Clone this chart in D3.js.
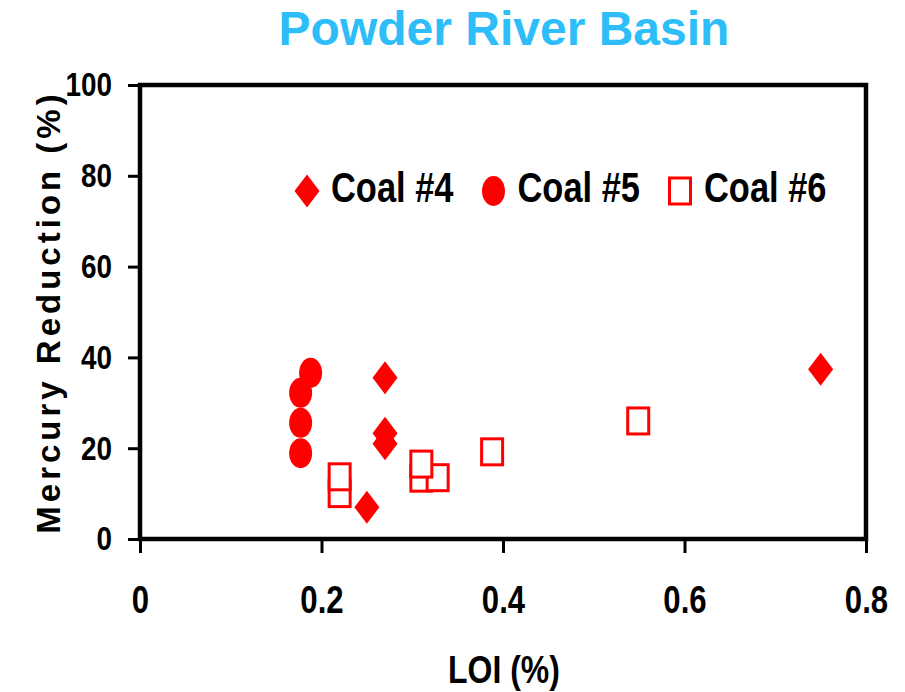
<!DOCTYPE html>
<html>
<head>
<meta charset="utf-8">
<script src="https://cdn.jsdelivr.net/npm/d3@7"></script>
<style>
  body { margin: 0; background: #fff; }
  svg { display: block; }
  .narrow { font-family: "Liberation Sans", Arial, sans-serif; font-weight: bold; }
</style>
</head>
<body>
<script>
// data
const seriesNames = ['Coal #4', 'Coal #5', 'Coal #6'];
const coal4LOI = [0.27, 0.27, 0.27, 0.25, 0.75];
const coal4Hg = [35.5, 23.3, 21.0, 7.0, 37.4];
const coal5LOI = [0.188, 0.177, 0.177, 0.177];
const coal5Hg = [36.6, 32.2, 25.6, 18.9];
const coal6LOI = [0.22, 0.22, 0.31, 0.328, 0.31, 0.388, 0.549];
const coal6Hg = [10.0, 13.7, 13.4, 13.5, 16.5, 19.2, 26.0];
const xTicks = [0, 0.2, 0.4, 0.6, 0.8];
const yTicks = [0, 20, 40, 60, 80, 100];

const width = 905, height = 692;
const margin = { top: 85, right: 39, bottom: 153, left: 140 };
const red = '#ff0000';
const squeeze = 0.82; // no narrow font installed, so squash bold text sideways

const svg = d3.select('body').append('svg')
  .attr('width', width)
  .attr('height', height);

const x = d3.scaleLinear().domain([0, 0.8]).range([margin.left, width - margin.right]);
const y = d3.scaleLinear().domain([0, 100]).range([height - margin.bottom, margin.top]);

// title
svg.append('text')
  .attr('x', 504)
  .attr('y', 45)
  .attr('text-anchor', 'middle')
  .style('font-family', '"Liberation Sans", Arial, sans-serif')
  .style('font-weight', 'bold')
  .style('font-size', '48px')
  .style('fill', '#2dbdf8')
  .text('Powder River Basin');

// axes
const xAxis = svg.append('g')
  .attr('transform', `translate(0,${y(0)})`)
  .call(d3.axisBottom(x).tickValues(xTicks).tickSize(14).tickPadding(33).tickFormat(d => d));
const yAxis = svg.append('g')
  .attr('transform', `translate(${x(0)},0)`)
  .call(d3.axisLeft(y).tickValues(yTicks).tickSize(12).tickPadding(16));

[xAxis, yAxis].forEach(g => {
  g.select('.domain').remove();
  g.selectAll('line').attr('stroke', '#000').attr('stroke-width', 3);
  g.selectAll('text').attr('class', 'narrow').attr('fill', '#000');
});
xAxis.selectAll('text')
  .style('font-size', '38px')
  .attr('y', 0)
  .attr('transform', `translate(0,47) scale(${squeeze},1)`);
yAxis.selectAll('text')
  .style('font-size', '34px')
  .attr('x', 0)
  .attr('transform', `translate(-28,0) scale(${squeeze},1)`);

// plot frame
svg.append('rect')
  .attr('x', x(0))
  .attr('y', y(100))
  .attr('width', x(0.8) - x(0))
  .attr('height', y(0) - y(100))
  .attr('fill', 'none')
  .attr('stroke', '#000')
  .attr('stroke-width', 4.5);

// axis titles
svg.append('text')
  .attr('class', 'narrow')
  .attr('transform', `translate(504,683) scale(${squeeze},1)`)
  .attr('text-anchor', 'middle')
  .style('font-size', '39px')
  .text('LOI (%)');

svg.append('text')
  .attr('transform', `translate(60,${(y(0) + y(100)) / 2}) rotate(-90)`)
  .attr('text-anchor', 'middle')
  .style('font-family', '"Liberation Sans", Arial, sans-serif')
  .style('font-weight', 'bold')
  .style('font-size', '33px')
  .style('letter-spacing', '4px')
  .text('Mercury Reduction (%)');

// marker shapes
function drawMarker(g, type) {
  if (type === 0) {
    g.append('path').attr('d', 'M0,-16.5L12.5,0L0,16.5L-12.5,0Z').attr('fill', red);
  } else if (type === 1) {
    g.append('ellipse').attr('rx', 11.5).attr('ry', 15).attr('fill', red);
  } else {
    g.append('rect').attr('x', -10.5).attr('y', -13).attr('width', 21).attr('height', 26)
      .attr('fill', '#fff').attr('stroke', red).attr('stroke-width', 3);
  }
}

const series = [
  { loi: coal4LOI, hg: coal4Hg },
  { loi: coal5LOI, hg: coal5Hg },
  { loi: coal6LOI, hg: coal6Hg }
];

series.forEach((s, i) => {
  s.loi.forEach((v, j) => {
    const g = svg.append('g').attr('transform', `translate(${x(v)},${y(s.hg[j])})`);
    drawMarker(g, i);
  });
});

// legend
const legend = svg.selectAll('.legend')
  .data(seriesNames)
  .enter()
  .append('g')
  .attr('class', 'legend')
  .attr('transform', (d, i) => `translate(${307 + i * 186.5},191)`);

legend.each(function(d, i) { drawMarker(d3.select(this), i); });

legend.append('text')
  .attr('class', 'narrow')
  .attr('transform', `translate(24,11) scale(${squeeze},1)`)
  .style('font-size', '42px')
  .text(d => d);
</script>
</body>
</html>
